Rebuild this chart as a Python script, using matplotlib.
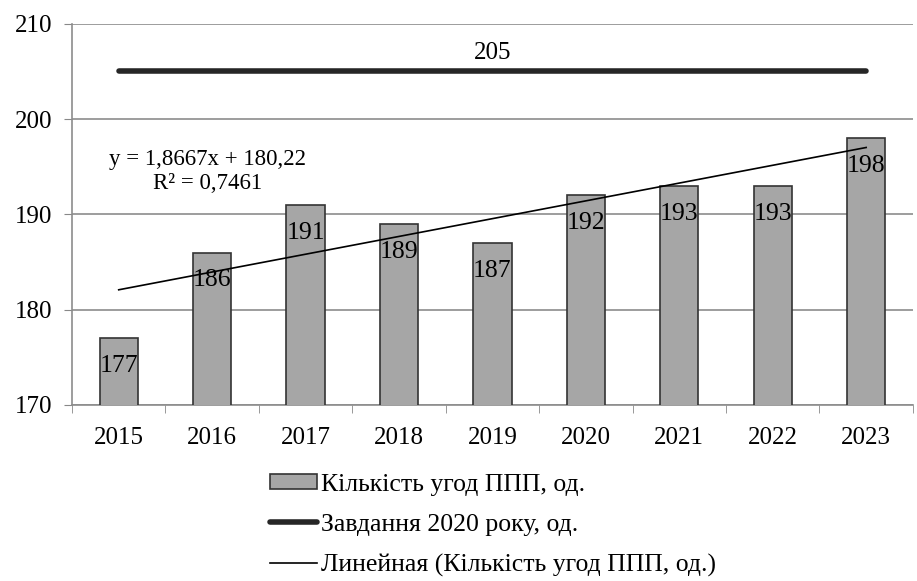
import matplotlib.pyplot as plt
import numpy as np
from matplotlib.lines import Line2D
from matplotlib.patches import Patch

plt.rcParams['font.family'] = ['Liberation Serif', 'DejaVu Serif']

# дані
years = ['2015', '2016', '2017', '2018', '2019', '2020', '2021', '2022', '2023']
deals = [177, 186, 191, 189, 187, 192, 193, 193, 198]
target = 205
slope, intercept, r2 = 1.8667, 180.22, 0.7461

fig = plt.figure(figsize=(9.17, 5.81), dpi=100)
ax = fig.add_axes([0.0785, 0.303, 0.917, 0.656])

x = np.arange(len(years))
bars = ax.bar(x, deals, width=0.41, color='#a6a6a6', edgecolor='#333333', linewidth=1.2, zorder=3)
for xi, v in zip(x, deals):
    ax.annotate(str(v), (xi, v), xytext=(0, -20), textcoords='offset points',
                ha='center', va='center', fontsize=18.5, zorder=5)

# завдання 2020 року
ax.plot(x, [target] * len(x), color='#262626', linewidth=4, solid_capstyle='round', zorder=4)
ax.text(x.mean(), target + 1.9, str(target), ha='center', va='center', fontsize=18)

# лінійний тренд
trend = slope * (x + 1) + intercept
ax.plot(x, trend, color='black', linewidth=1.2, zorder=4)
ax.text(0.95, 194.5, 'y = 1,8667x + 180,22\nR² = 0,7461', ha='center', va='center',
        fontsize=16.5, linespacing=1.2)

ax.set_xlim(-0.5, len(years) - 0.5)
ax.set_ylim(170, 210)
ax.set_yticks([170, 180, 190, 200, 210])
ax.set_xticks(x)
ax.set_xticklabels(years)
ax.set_xticks(np.arange(-0.5, len(years), 1), minor=True)
ax.tick_params(axis='x', which='major', length=0, labelsize=18, pad=16)
ax.tick_params(axis='x', which='minor', length=6, color='#888888', direction='out')
ax.tick_params(axis='y', length=6, color='#888888', labelsize=18, pad=8)
ax.grid(axis='y', color='#8c8c8c', linewidth=1.2, zorder=0)
for s in ['top', 'right']:
    ax.spines[s].set_visible(False)
for s in ['left', 'bottom']:
    ax.spines[s].set_color('#8c8c8c')
    ax.spines[s].set_linewidth(1.2)

handles = [Patch(facecolor='#a6a6a6', edgecolor='#333333', linewidth=1.2),
           Line2D([], [], color='#262626', linewidth=4, solid_capstyle='round'),
           Line2D([], [], color='black', linewidth=1.2)]
labels = ['Кількість угод ППП, од.', 'Завдання 2020 року, од.', 'Линейная (Кількість угод ППП, од.)']
fig.legend(handles, labels, loc='upper left', bbox_to_anchor=(0.294, 0.185), frameon=False,
           fontsize=18.5, handlelength=1.85, handleheight=0.5, handletextpad=0.15,
           labelspacing=0.7, borderpad=0, borderaxespad=0)

fig.savefig('out.png', dpi=100)
